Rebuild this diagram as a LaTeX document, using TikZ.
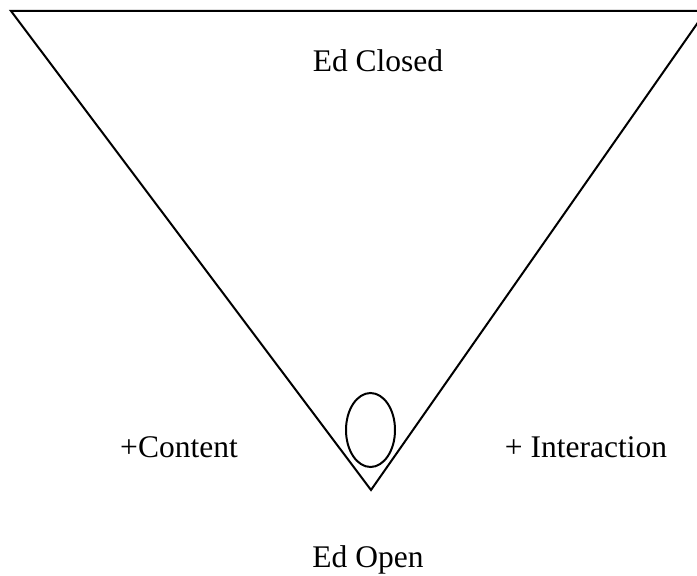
\documentclass[tikz,border=0pt]{standalone}
\usepackage{fontspec}
\setmainfont{Liberation Serif}
\usetikzlibrary{shapes.geometric}
\tikzset{
  lbl/.style={anchor=base, inner sep=0pt, font=\fontsize{31.5bp}{38bp}\selectfont},
  stroke/.style={draw=black, line width=2bp},
}
\begin{document}
\begin{tikzpicture}[x=1bp, y=-1bp]
\useasboundingbox (0,0) rectangle (697,576);
\fill[white] (0,0) rectangle (697,576);
\begin{scope}
\clip (0,0) rectangle (697,576);
\draw[stroke, line join=miter] (11,11) -- (706,11) -- (371,490) -- cycle;
\end{scope}
\node[stroke, ellipse, minimum width=49bp, minimum height=74bp, inner sep=0pt] (egg) at (370.5,430) {};
\node[lbl] (closed) at (378,72) {Ed Closed};
\node[lbl] (content) at (179,457) {+Content};
\node[lbl] (inter) at (586,457) {+ Interaction};
\node[lbl] (open) at (368,567) {Ed Open};
\end{tikzpicture}
\end{document}
